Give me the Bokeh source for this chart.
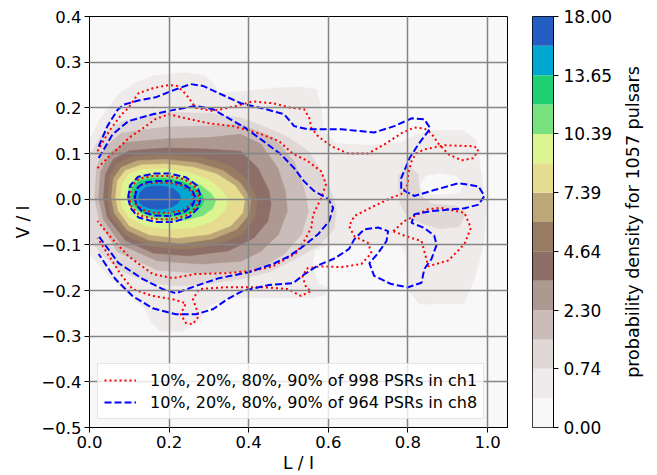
import math
from bokeh.plotting import figure
from bokeh.layouts import row
from bokeh.models import (ColumnDataSource, FixedTicker, CustomJSTickFormatter,
                          Legend, LegendItem)
from bokeh.core.properties import value
from bokeh.embed import file_html
from bokeh.resources import INLINE

# ---------------- data ----------------
# colour bands of the density (lowest -> highest), terrain_r look
BAND_COLORS = ["#f9f8f8", "#efebea", "#e0d8d6", "#cabcb8", "#ad9892", "#8e6f68",
               "#977b62", "#bda678", "#e6dc90", "#ddf590", "#78e27e", "#20d173",
               "#00a8d1", "#245ec2"]
CBAR_TICK_LABELS = ["0.00", "0.74", "2.30", "4.64", "7.39", "10.39", "13.65", "18.00"]
X_TICKS = [0.0, 0.2, 0.4, 0.6, 0.8, 1.0]
Y_TICKS = [-0.5, -0.4, -0.3, -0.2, -0.1, 0.0, 0.1, 0.2, 0.3, 0.4]

# filled density contours (L/I, V/I) vertices, outer -> inner
DENS_L1 = [(-0.05, 0.12), (0.0, 0.13), (0.03, 0.18), (0.073, 0.23), (0.115, 0.255), (0.16, 0.27),
           (0.24, 0.277), (0.29, 0.27), (0.31, 0.255), (0.325, 0.232), (0.385, 0.236), (0.46, 0.243),
           (0.53, 0.246), (0.57, 0.24), (0.582, 0.2), (0.588, 0.15), (0.62, 0.122), (0.7, 0.118),
           (0.78, 0.123), (0.82, 0.14), (0.86, 0.15), (0.94, 0.15), (0.97, 0.13), (0.985, 0.05),
           (0.995, -0.02), (0.99, -0.1), (0.967, -0.175), (0.94, -0.228), (0.83, -0.23), (0.8, -0.2),
           (0.795, -0.12), (0.78, -0.1), (0.7, -0.098), (0.6, -0.1), (0.565, -0.115), (0.56, -0.15),
           (0.575, -0.185), (0.6, -0.195), (0.59, -0.21), (0.56, -0.215), (0.45, -0.215), (0.35, -0.215),
           (0.3, -0.235), (0.27, -0.27), (0.23, -0.29), (0.18, -0.29), (0.155, -0.27), (0.14, -0.24),
           (0.1, -0.21), (0.05, -0.17), (0.0, -0.12), (-0.05, -0.1)]
DENS_HOLE = [(0.83, 0.03), (0.845, 0.05), (0.88, 0.056), (0.92, 0.05), (0.94, 0.035), (0.93, 0.015),
             (0.88, 0.01), (0.84, 0.013)]
DENS_L2 = [(-0.05, 0.09), (0.0, 0.095), (0.03, 0.14), (0.08, 0.17), (0.15, 0.185), (0.22, 0.19),
           (0.3, 0.188), (0.38, 0.178), (0.45, 0.155), (0.5, 0.135), (0.55, 0.105), (0.58, 0.065),
           (0.605, 0.02), (0.62, -0.02), (0.615, -0.065), (0.58, -0.1), (0.52, -0.13), (0.45, -0.16),
           (0.38, -0.175), (0.3, -0.185), (0.22, -0.19), (0.15, -0.183), (0.08, -0.158), (0.03, -0.12),
           (0.0, -0.09), (-0.05, -0.085)]
DENS_L2B = [(0.775, 0.05), (0.8, 0.075), (0.825, 0.055), (0.83, 0.01), (0.86, -0.01), (0.92, -0.015),
            (0.945, -0.03), (0.93, -0.06), (0.88, -0.065), (0.84, -0.055), (0.8, -0.04), (0.78, -0.01)]
DENS_L3 = [(0.013, 0.003), (0.018, 0.07), (0.04, 0.115), (0.08, 0.145), (0.19, 0.158), (0.3, 0.16),
           (0.38, 0.164), (0.463, 0.134), (0.514, 0.083), (0.539, 0.024), (0.55, -0.026), (0.533, -0.077),
           (0.489, -0.12), (0.431, -0.151), (0.38, -0.158), (0.28, -0.163), (0.17, -0.155), (0.07, -0.115),
           (0.025, -0.05)]
DENS_L4 = [(0.023, 0.003), (0.028, 0.06), (0.05, 0.1), (0.09, 0.124), (0.19, 0.132), (0.3, 0.135),
           (0.38, 0.142), (0.431, 0.12), (0.473, 0.068), (0.492, 0.018), (0.497, -0.026), (0.475, -0.077),
           (0.431, -0.114), (0.38, -0.136), (0.28, -0.142), (0.17, -0.135), (0.08, -0.1), (0.035, -0.045)]
DENS_L5 = [(0.035, 0.003), (0.04, 0.055), (0.06, 0.088), (0.1, 0.106), (0.19, 0.112), (0.29, 0.11),
           (0.38, 0.105), (0.423, 0.068), (0.451, 0.018), (0.456, -0.011), (0.448, -0.048), (0.413, -0.085),
           (0.35, -0.113), (0.25, -0.124), (0.16, -0.118), (0.09, -0.09), (0.045, -0.04)]
DENS_L6 = [(0.045, 0.003), (0.05, 0.05), (0.07, 0.078), (0.11, 0.094), (0.19, 0.098), (0.28, 0.092),
           (0.35, 0.075), (0.395, 0.045), (0.422, 0.0), (0.415, -0.04), (0.385, -0.077), (0.32, -0.1),
           (0.24, -0.11), (0.15, -0.103), (0.09, -0.078), (0.052, -0.035)]
DENS_L7 = [(0.055, 0.003), (0.06, 0.045), (0.08, 0.07), (0.12, 0.084), (0.19, 0.087), (0.27, 0.08),
           (0.335, 0.063), (0.38, 0.035), (0.405, 0.0), (0.4, -0.035), (0.37, -0.066), (0.31, -0.087),
           (0.23, -0.097), (0.15, -0.09), (0.095, -0.068), (0.062, -0.03)]
DENS_L8 = [(0.066, 0.003), (0.07, 0.04), (0.09, 0.063), (0.13, 0.075), (0.19, 0.077), (0.26, 0.07),
           (0.32, 0.055), (0.365, 0.03), (0.39, 0.0), (0.385, -0.03), (0.355, -0.058), (0.3, -0.077),
           (0.22, -0.085), (0.15, -0.078), (0.1, -0.058), (0.072, -0.025)]
DENS_L9 = [(0.078, 0.003), (0.083, 0.035), (0.1, 0.055), (0.135, 0.065), (0.19, 0.066), (0.25, 0.058),
           (0.3, 0.042), (0.33, 0.022), (0.347, 0.0), (0.34, -0.025), (0.31, -0.048), (0.26, -0.062),
           (0.2, -0.066), (0.14, -0.058), (0.1, -0.04), (0.083, -0.018)]
DENS_L10 = [(0.095, 0.003), (0.1, 0.03), (0.118, 0.046), (0.15, 0.053), (0.195, 0.052), (0.24, 0.045),
            (0.28, 0.03), (0.305, 0.013), (0.317, -0.003), (0.31, -0.02), (0.285, -0.036), (0.24, -0.046),
            (0.19, -0.047), (0.14, -0.038), (0.107, -0.018)]
DENS_L11 = [(0.103, 0.003), (0.108, 0.026), (0.125, 0.04), (0.155, 0.046), (0.195, 0.045), (0.235, 0.038),
            (0.265, 0.025), (0.283, 0.01), (0.288, -0.003), (0.28, -0.017), (0.255, -0.03), (0.215, -0.037),
            (0.17, -0.037), (0.13, -0.028), (0.108, -0.012)]
DENS_L12 = [(0.11, 0.003), (0.116, 0.022), (0.133, 0.034), (0.16, 0.039), (0.195, 0.038), (0.228, 0.032),
            (0.255, 0.02), (0.27, 0.008), (0.272, -0.002), (0.262, -0.013), (0.235, -0.024), (0.2, -0.03),
            (0.16, -0.03), (0.13, -0.022), (0.115, -0.01)]
DENS_L13 = [(0.123, 0.003), (0.128, 0.017), (0.142, 0.026), (0.165, 0.029), (0.19, 0.028), (0.212, 0.022),
            (0.225, 0.012), (0.229, 0.002), (0.222, -0.009), (0.205, -0.018), (0.18, -0.022), (0.155, -0.021),
            (0.135, -0.015), (0.125, -0.007)]

# contour lines of ch1 (998 PSRs)
CH1_10 = [(0.02, 0.105), (0.05, 0.15), (0.08, 0.185), (0.098, 0.2), (0.123, 0.232), (0.159, 0.243),
          (0.199, 0.25), (0.22, 0.248), (0.242, 0.23), (0.267, 0.2), (0.31, 0.193), (0.368, 0.204),
          (0.41, 0.214), (0.461, 0.21), (0.506, 0.2), (0.539, 0.197), (0.552, 0.178), (0.557, 0.156),
          (0.574, 0.138), (0.607, 0.116), (0.65, 0.1), (0.7, 0.1), (0.741, 0.12), (0.783, 0.144),
          (0.816, 0.157), (0.841, 0.155), (0.859, 0.144), (0.876, 0.122), (0.902, 0.098), (0.935, 0.085),
          (0.965, 0.09), (0.977, 0.109), (0.965, 0.116), (0.892, 0.118), (0.841, 0.109), (0.82, 0.1),
          (0.809, 0.083), (0.8, 0.055), (0.8, 0.033), (0.783, 0.011), (0.758, 0.003), (0.715, -0.015),
          (0.665, -0.037), (0.652, -0.059), (0.665, -0.081), (0.7, -0.096), (0.708, -0.118), (0.683, -0.142),
          (0.632, -0.149), (0.582, -0.147), (0.545, -0.152), (0.535, -0.17), (0.545, -0.195), (0.557, -0.201),
          (0.531, -0.212), (0.499, -0.197), (0.438, -0.193), (0.338, -0.193), (0.275, -0.197), (0.26, -0.219),
          (0.275, -0.256), (0.259, -0.274), (0.242, -0.271), (0.229, -0.252), (0.242, -0.228), (0.209, -0.219),
          (0.159, -0.212), (0.108, -0.197), (0.078, -0.164), (0.02, -0.085)]
CH1_10_LOOP = [(0.763, -0.07), (0.791, -0.048), (0.816, -0.037), (0.85, -0.022), (0.884, -0.019),
               (0.942, -0.03), (0.958, -0.063), (0.942, -0.098), (0.902, -0.134), (0.851, -0.147),
               (0.841, -0.114), (0.834, -0.092), (0.791, -0.08), (0.763, -0.07)]
CH1_20 = [(0.02, 0.068), (0.045, 0.09), (0.073, 0.112), (0.1, 0.135), (0.134, 0.155), (0.165, 0.175),
          (0.199, 0.186), (0.242, 0.177), (0.3, 0.166), (0.36, 0.16), (0.426, 0.144), (0.476, 0.127),
          (0.51, 0.1), (0.549, 0.083), (0.582, 0.061), (0.594, 0.033), (0.582, 0.002), (0.562, -0.033),
          (0.557, -0.063), (0.539, -0.092), (0.519, -0.118), (0.461, -0.147), (0.41, -0.157), (0.343, -0.162),
          (0.267, -0.164), (0.209, -0.173), (0.159, -0.164), (0.098, -0.125), (0.058, -0.088), (0.02, -0.048)]
CH1_80 = [(0.1, 0.003), (0.105, 0.028), (0.125, 0.045), (0.16, 0.051), (0.2, 0.051), (0.24, 0.043),
          (0.265, 0.027), (0.275, 0.005), (0.268, -0.017), (0.248, -0.034), (0.21, -0.044), (0.165, -0.044),
          (0.125, -0.035), (0.105, -0.016), (0.1, 0.003)]
CH1_90 = [(0.112, 0.003), (0.117, 0.022), (0.135, 0.033), (0.165, 0.036), (0.2, 0.036), (0.232, 0.03),
          (0.254, 0.018), (0.262, 0.003), (0.255, -0.012), (0.235, -0.024), (0.2, -0.03), (0.165, -0.03),
          (0.135, -0.024), (0.117, -0.011), (0.112, 0.003)]

# contour lines of ch8 (964 PSRs)
CH8_10 = [(0.023, 0.115), (0.045, 0.16), (0.07, 0.195), (0.086, 0.207), (0.123, 0.216), (0.166, 0.223),
          (0.209, 0.238), (0.254, 0.252), (0.285, 0.248), (0.325, 0.232), (0.38, 0.21), (0.443, 0.197),
          (0.489, 0.186), (0.514, 0.16), (0.549, 0.153), (0.632, 0.153), (0.715, 0.146), (0.766, 0.16),
          (0.809, 0.177), (0.841, 0.175), (0.856, 0.155), (0.826, 0.12), (0.804, 0.09), (0.783, 0.046),
          (0.783, 0.022), (0.816, 0.007), (0.866, 0.02), (0.927, 0.035), (0.977, 0.028), (0.992, 0.007),
          (0.977, -0.012), (0.942, -0.02), (0.859, -0.026), (0.816, -0.033), (0.809, -0.052), (0.841, -0.063),
          (0.866, -0.08), (0.872, -0.1), (0.859, -0.131), (0.841, -0.153), (0.834, -0.183), (0.8, -0.193),
          (0.758, -0.186), (0.715, -0.168), (0.703, -0.14), (0.725, -0.118), (0.746, -0.092), (0.75, -0.07),
          (0.725, -0.062), (0.69, -0.066), (0.665, -0.088), (0.652, -0.109), (0.615, -0.13), (0.574, -0.145),
          (0.539, -0.165), (0.511, -0.184), (0.451, -0.188), (0.385, -0.201), (0.35, -0.217), (0.31, -0.241),
          (0.267, -0.252), (0.217, -0.252), (0.159, -0.239), (0.108, -0.212), (0.065, -0.175), (0.023, -0.12)]
CH8_20 = [(0.023, 0.09), (0.058, 0.142), (0.098, 0.171), (0.159, 0.186), (0.209, 0.195), (0.267, 0.204),
          (0.31, 0.197), (0.35, 0.177), (0.393, 0.155), (0.443, 0.123), (0.481, 0.098), (0.514, 0.068),
          (0.539, 0.039), (0.564, 0.018), (0.6, 0.0), (0.612, -0.019), (0.602, -0.048), (0.574, -0.077),
          (0.531, -0.107), (0.501, -0.125), (0.461, -0.142), (0.4, -0.16), (0.325, -0.173), (0.267, -0.19),
          (0.217, -0.206), (0.184, -0.197), (0.134, -0.175), (0.073, -0.14), (0.023, -0.081)]
CH8_80 = [(0.097, 0.003), (0.102, 0.03), (0.122, 0.049), (0.16, 0.056), (0.2, 0.056), (0.242, 0.048),
          (0.27, 0.03), (0.28, 0.005), (0.273, -0.019), (0.252, -0.038), (0.212, -0.05), (0.165, -0.05),
          (0.123, -0.04), (0.103, -0.019), (0.097, 0.003)]
CH8_90 = [(0.114, 0.003), (0.119, 0.024), (0.137, 0.036), (0.168, 0.04), (0.203, 0.04), (0.236, 0.033),
          (0.258, 0.02), (0.266, 0.003), (0.258, -0.015), (0.236, -0.029), (0.2, -0.037), (0.163, -0.036),
          (0.133, -0.028), (0.118, -0.013), (0.114, 0.003)]

LABEL_CH1 = "10%, 20%, 80%, 90% of 998 PSRs in ch1"
LABEL_CH8 = "10%, 20%, 80%, 90% of 964 PSRs in ch8"
CBAR_TITLE = "probability density for 1057 pulsars"

# ---------------- drawing ----------------
FONT = "DejaVu Sans"


def xs_of(pts):
    return [q[0] for q in pts]


def ys_of(pts):
    return [q[1] for q in pts]


p = figure(width=512, height=475, x_range=(0.0, 1.05), y_range=(-0.5, 0.4),
           toolbar_location=None, output_backend="svg",
           min_border_left=89, min_border_right=5, min_border_top=16, min_border_bottom=48)
p.background_fill_color = BAND_COLORS[0]
p.border_fill_color = "white"
p.outline_line_color = "black"
p.outline_line_width = 1

fill_polys = [DENS_L1, DENS_HOLE, DENS_L2, DENS_L2B, DENS_L3, DENS_L4, DENS_L5, DENS_L6, DENS_L7,
              DENS_L8, DENS_L9, DENS_L10, DENS_L11, DENS_L12, DENS_L13]
fill_cols = [BAND_COLORS[1], BAND_COLORS[0], BAND_COLORS[2], BAND_COLORS[2]] + BAND_COLORS[3:14]
src = ColumnDataSource(dict(xs=[xs_of(a) for a in fill_polys], ys=[ys_of(a) for a in fill_polys],
                            c=fill_cols))
p.patches("xs", "ys", source=src, fill_color="c", line_color="c", line_width=0.6)

red_lines = [CH1_10, CH1_10_LOOP, CH1_20, CH1_80, CH1_90]
blue_lines = [CH8_10, CH8_20, CH8_80, CH8_90]
r_red = p.multi_line([xs_of(a) for a in red_lines], [ys_of(a) for a in red_lines],
                     line_color="red", line_width=2, line_dash="2 3")
r_blue = p.multi_line([xs_of(a) for a in blue_lines], [ys_of(a) for a in blue_lines],
                      line_color="blue", line_width=2, line_dash="7 3")

for g, t in ((p.xgrid, X_TICKS), (p.ygrid, Y_TICKS)):
    g.ticker = FixedTicker(ticks=t)
    g.grid_line_color = "#858585"
    g.grid_line_width = 1.5
    g.level = "guide"

p.xaxis.ticker = FixedTicker(ticks=X_TICKS)
p.yaxis.ticker = FixedTicker(ticks=Y_TICKS)
p.xaxis.formatter = CustomJSTickFormatter(code="return (tick < -1e-9 ? '\u2212' : '') + Math.abs(tick).toFixed(1);")
p.yaxis.formatter = CustomJSTickFormatter(code="return (tick < -1e-9 ? '\u2212' : '') + Math.abs(tick).toFixed(1);")
p.xaxis.axis_label = "L / I"
p.yaxis.axis_label = "V / I"
for ax in (p.xaxis, p.yaxis):
    ax.major_label_text_font = FONT
    ax.major_label_text_font_size = "16.5px"
    ax.major_label_text_color = "black"
    ax.axis_label_text_font = FONT
    ax.axis_label_text_font_size = "17px"
    ax.axis_label_text_font_style = "normal"
    ax.axis_label_text_color = "black"
    ax.major_tick_out = 5
    ax.major_tick_in = 0
    ax.minor_tick_out = 0
    ax.minor_tick_in = 0
    ax.axis_line_color = "black"
    ax.major_tick_line_color = "black"
    ax.major_label_standoff = 3
p.xaxis.axis_label_standoff = 2
p.yaxis.axis_label_standoff = 5

legend = Legend(items=[LegendItem(label=LABEL_CH1, renderers=[r_red]),
                       LegendItem(label=LABEL_CH8, renderers=[r_blue])],
                location="bottom_left")
legend.margin = 8
legend.padding = 6
legend.spacing = 2
legend.glyph_width = 32
legend.glyph_height = 20
legend.label_standoff = 14
legend.label_text_font = FONT
legend.label_text_font_size = "16px"
legend.label_text_color = "black"
legend.border_line_color = "#cccccc"
legend.border_line_width = 1
legend.background_fill_color = "white"
legend.background_fill_alpha = 0.8
p.add_layout(legend)

# ---------------- colour bar as its own small figure ----------------
n_bands = len(BAND_COLORS)
cb = figure(width=105, height=475, x_range=(0, 1), y_range=(0, n_bands),
            toolbar_location=None, output_backend="svg",
            x_axis_location=None, y_axis_location="right",
            min_border_left=20, min_border_right=64, min_border_top=16, min_border_bottom=48)
cb.quad(left=0, right=1, bottom=list(range(n_bands)), top=list(range(1, n_bands + 1)),
        fill_color=BAND_COLORS, line_color=None)
cb.xgrid.visible = False
cb.ygrid.visible = False
cb.outline_line_color = "black"
cb.outline_line_width = 1
cb.background_fill_color = "white"
cb.yaxis.ticker = FixedTicker(ticks=[2 * i for i in range(len(CBAR_TICK_LABELS))])
cb.yaxis.formatter = CustomJSTickFormatter(args=dict(labels=CBAR_TICK_LABELS),
                                           code="return labels[Math.round(tick / 2)];")
cb.yaxis.major_label_text_font = FONT
cb.yaxis.major_label_text_font_size = "17px"
cb.yaxis.major_label_text_color = "black"
cb.yaxis.major_tick_out = 5
cb.yaxis.major_tick_in = 0
cb.yaxis.minor_tick_out = 0
cb.yaxis.minor_tick_in = 0
cb.yaxis.major_label_standoff = 5
cb.yaxis.axis_line_color = "black"

# ---------------- colour bar title (rotated text) ----------------
tf = figure(width=40, height=475, x_range=(0, 40), y_range=(0, n_bands),
            toolbar_location=None, output_backend="svg",
            x_axis_location=None, y_axis_location=None,
            min_border_left=0, min_border_right=0, min_border_top=16, min_border_bottom=48)
tf.outline_line_color = None
tf.background_fill_color = "white"
tf.xgrid.visible = False
tf.ygrid.visible = False
tf.text(x=[15], y=[n_bands / 2], text=[CBAR_TITLE], angle=math.pi / 2,
        text_align="center", text_baseline="middle", text_font=value(FONT),
        text_font_size="17.5px", text_color="black")

layout = row(p, cb, tf)
open("out.html", "w").write(file_html(layout, INLINE))
